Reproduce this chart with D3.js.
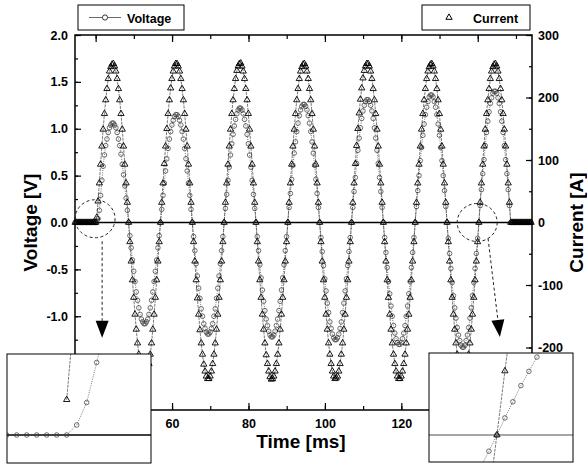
<!DOCTYPE html>
<html>
<head>
<meta charset="utf-8">
<script src="https://cdn.jsdelivr.net/npm/d3@7/dist/d3.min.js"></script>
<style>
  body { margin: 0; background: #fff; }
  text { font-family: "Liberation Sans", Arial, sans-serif; font-weight: bold; fill: #000; }
  .tick text { font-size: 12.5px; }
  .tick line { stroke: #000; stroke-width: 1.2; }
</style>
</head>
<body>
<svg id="chart" width="587" height="466"></svg>
<script>
// sampling of the recorded traces (ms)
var sampleStart = 34.633
var sampleStep = 1 / 3

// voltage trace [V], one half cycle per line
var voltage = [
  0,0,0,0,0,0,0,0,0,0,0,0,0,0,0,0,0,
  0,.04,.13,.29,.45,.60,.72,.82,.89,.96,1.01,1.04,1.06,1.06,1.04,1.01,.96,.89,.82,.73,.62,.51,.39,.26,.13,
  0,-.14,-.27,-.40,-.52,-.63,-.74,-.83,-.91,-.98,-1.03,-1.06,-1.08,-1.08,-1.06,-1.03,-.98,-.91,-.83,-.74,-.63,-.52,-.40,-.27,-.14,
  0,.14,.29,.42,.55,.68,.79,.89,.97,1.04,1.09,1.13,1.15,1.15,1.13,1.09,1.04,.97,.89,.79,.68,.55,.42,.29,.14,
  0,-.15,-.30,-.44,-.57,-.70,-.81,-.92,-1.00,-1.08,-1.13,-1.17,-1.19,-1.19,-1.17,-1.13,-1.08,-1.00,-.92,-.81,-.70,-.57,-.44,-.30,-.15,
  0,.15,.30,.45,.59,.72,.84,.94,1.03,1.10,1.16,1.20,1.22,1.22,1.20,1.16,1.10,1.03,.94,.84,.72,.59,.45,.30,.15,
  0,-.15,-.30,-.45,-.59,-.72,-.84,-.94,-1.03,-1.10,-1.16,-1.20,-1.22,-1.22,-1.20,-1.16,-1.10,-1.03,-.94,-.84,-.72,-.59,-.45,-.30,-.15,
  0,.16,.31,.46,.61,.74,.86,.97,1.06,1.14,1.20,1.24,1.26,1.26,1.24,1.20,1.14,1.06,.97,.86,.74,.61,.46,.31,.16,
  0,-.16,-.31,-.46,-.60,-.73,-.86,-.96,-1.06,-1.13,-1.19,-1.23,-1.25,-1.25,-1.23,-1.19,-1.13,-1.06,-.96,-.86,-.73,-.60,-.46,-.31,-.16,
  0,.16,.33,.48,.63,.77,.90,1.01,1.11,1.19,1.25,1.29,1.31,1.31,1.29,1.25,1.19,1.11,1.01,.90,.77,.63,.48,.33,.16,
  0,-.16,-.32,-.48,-.63,-.76,-.89,-1.00,-1.10,-1.18,-1.24,-1.28,-1.30,-1.30,-1.28,-1.24,-1.18,-1.10,-1.00,-.89,-.76,-.63,-.48,-.32,-.16,
  0,.17,.34,.50,.66,.80,.93,1.05,1.15,1.23,1.29,1.34,1.36,1.36,1.34,1.29,1.23,1.15,1.05,.93,.80,.66,.50,.34,.17,
  0,-.17,-.33,-.49,-.64,-.78,-.91,-1.02,-1.12,-1.20,-1.26,-1.31,-1.33,-1.33,-1.31,-1.26,-1.20,-1.12,-1.02,-.91,-.78,-.64,-.49,-.33,-.17,
  0,.18,.35,.52,.67,.82,.96,1.08,1.18,1.27,1.33,1.38,1.40,1.40,1.38,1.33,1.27,1.18,1.08,.96,.82,.67,.52,.35,.18,
  0,0,0,0,0,0,0,0,0,0,0,0,0,0,0,0,0
]

// current trace [A], same samples
var current = [
  0,0,0,0,0,0,0,0,0,0,0,0,0,0,0,0,0,
  8,34,63,93,122,149,174,196,214,230,242,249,253,254,250,242,230,214,196,174,149,122,93,63,32,
  0,-31,-62,-92,-120,-147,-171,-193,-211,-226,-238,-246,-250,-249,-246,-238,-226,-211,-193,-171,-147,-120,-92,-62,-31,
  0,32,63,94,122,150,174,196,215,230,242,250,254,254,250,242,230,214,196,174,149,122,93,63,32,
  0,-31,-62,-92,-121,-147,-172,-193,-211,-227,-238,-246,-250,-250,-246,-238,-226,-211,-193,-171,-147,-120,-92,-62,-31,
  0,32,63,93,122,149,174,196,214,230,243,250,254,255,250,242,230,214,196,174,149,122,93,63,32,
  0,-31,-62,-92,-120,-147,-171,-193,-212,-226,-238,-247,-251,-250,-246,-238,-226,-211,-193,-171,-147,-120,-92,-62,-31,
  0,32,63,93,122,149,174,196,214,230,242,249,253,254,250,242,230,214,196,174,149,122,93,63,32,
  0,-31,-62,-92,-120,-147,-171,-193,-211,-226,-238,-246,-250,-249,-246,-238,-226,-211,-193,-171,-147,-120,-92,-62,-31,
  0,32,63,94,123,150,175,197,215,231,243,250,254,254,250,242,230,214,196,174,149,122,93,63,32,
  0,-31,-62,-92,-120,-147,-171,-193,-211,-226,-238,-246,-250,-250,-246,-238,-226,-211,-193,-171,-147,-120,-92,-62,-31,
  0,32,63,93,122,149,174,196,214,230,242,249,253,254,250,242,230,214,196,174,149,122,93,63,32,
  0,-31,-62,-92,-120,-147,-171,-193,-211,-226,-239,-247,-251,-250,-246,-238,-226,-211,-193,-171,-147,-120,-92,-62,-31,
  0,32,63,93,122,149,174,196,214,230,242,249,253,254,250,242,230,214,196,174,149,122,93,63,32,
  0,0,0,0,0,0,0,0,0,0,0,0,0,0,0,0,0
]

var timeTicks = [40, 60, 80, 100, 120, 140]
var timeMinor = [40, 50, 60, 70, 80, 90, 100, 110, 120, 130, 140, 150]
var voltTicks = [-2, -1.5, -1, -0.5, 0, 0.5, 1, 1.5, 2]
var voltMinor = d3.range(-2, 2.01, 0.25)
var ampTicks = [-300, -200, -100, 0, 100, 200, 300]
var ampMinor = d3.range(-300, 301, 50)

var svg = d3.select("#chart")
var plot = {left: 75, right: 532, top: 35, bottom: 410}

var xScale = d3.scaleLinear().domain([34.6, 154.2]).range([plot.left, plot.right])
var yVolt = d3.scaleLinear().domain([-2, 2]).range([plot.bottom, plot.top])
var yAmp = d3.scaleLinear().domain([-300, 300]).range([plot.bottom, plot.top])

var samples = voltage.map(function (v, i) {
    return {t: sampleStart + i * sampleStep, v: v, c: current[i]}
})

var triangle = d3.symbol().type(d3.symbolTriangle).size(17)

// plain hyphen for negative labels, like the original
var hyphen = function (fmt) {
    return function (d) { return fmt(d).replace("\u2212", "-") }
}

// draws both traces into a group with its own scales
var drawTraces = function (g, xs, yv, yc, showCurrent) {
    var vLine = d3.line().x(function (d) { return xs(d.t) }).y(function (d) { return yv(d.v) })
    var cLine = d3.line().x(function (d) { return xs(d.t) }).y(function (d) { return yc(d.c) })

    g.append("path").datum(samples)
        .attr("d", vLine)
        .attr("fill", "none").attr("stroke", "#555")
        .attr("stroke-width", 0.8).attr("stroke-dasharray", "1,1.3")

    g.append("g").selectAll("circle")
        .data(samples).enter().append("circle")
        .attr("cx", function (d) { return xs(d.t) })
        .attr("cy", function (d) { return yv(d.v) })
        .attr("r", 2.3)
        .attr("fill", "none").attr("stroke", "#333").attr("stroke-width", 0.7)

    var cs = samples.filter(showCurrent)

    g.append("path").datum(cs)
        .attr("d", cLine)
        .attr("fill", "none").attr("stroke", "#222")
        .attr("stroke-width", 0.6).attr("stroke-dasharray", "3,1")

    g.append("g").selectAll("path")
        .data(cs).enter().append("path")
        .attr("d", triangle)
        .attr("transform", function (d) { return "translate(" + xs(d.t) + "," + yc(d.c) + ")" })
        .attr("fill", "none").attr("stroke", "#000").attr("stroke-width", 0.9)
}

// zero line
svg.append("line")
    .attr("x1", plot.left).attr("x2", plot.right)
    .attr("y1", yVolt(0)).attr("y2", yVolt(0))
    .attr("stroke", "#000").attr("stroke-width", 1.5)

drawTraces(svg.append("g"), xScale, yVolt, yAmp, function () { return true })

// axes
var axes = svg.append("g")
axes.append("g").attr("transform", "translate(0," + plot.bottom + ")")
    .call(d3.axisBottom(xScale).tickValues(timeTicks).tickSize(-7).tickPadding(9))
axes.append("g").attr("transform", "translate(0," + plot.bottom + ")")
    .call(d3.axisBottom(xScale).tickValues(timeMinor).tickSize(-4).tickFormat(""))
axes.append("g").attr("transform", "translate(0," + plot.top + ")")
    .call(d3.axisTop(xScale).tickValues(timeTicks).tickSize(-7).tickFormat(""))
axes.append("g").attr("transform", "translate(0," + plot.top + ")")
    .call(d3.axisTop(xScale).tickValues(timeMinor).tickSize(-4).tickFormat(""))
axes.append("g").attr("transform", "translate(" + plot.left + ",0)")
    .call(d3.axisLeft(yVolt).tickValues(voltTicks).tickSize(-6).tickPadding(7).tickFormat(hyphen(d3.format(".1f"))))
axes.append("g").attr("transform", "translate(" + plot.left + ",0)")
    .call(d3.axisLeft(yVolt).tickValues(voltMinor).tickSize(-3).tickFormat(""))
axes.append("g").attr("transform", "translate(" + plot.right + ",0)")
    .call(d3.axisRight(yAmp).tickValues(ampTicks).tickSize(-6).tickPadding(6).tickFormat(hyphen(d3.format("d"))))
axes.append("g").attr("transform", "translate(" + plot.right + ",0)")
    .call(d3.axisRight(yAmp).tickValues(ampMinor).tickSize(-3).tickFormat(""))
axes.selectAll(".domain").remove()
axes.selectAll("text").attr("fill", "#000").style("font-size", "12.5px")

svg.append("rect")
    .attr("x", plot.left).attr("y", plot.top)
    .attr("width", plot.right - plot.left).attr("height", plot.bottom - plot.top)
    .attr("fill", "none").attr("stroke", "#000").attr("stroke-width", 1.5)

// axis titles
svg.append("text").text("Time [ms]")
    .attr("x", 301).attr("y", 448).attr("text-anchor", "middle").style("font-size", "19px")
svg.append("text").text("Voltage [V]")
    .attr("transform", "translate(37," + yVolt(0) + ") rotate(-90)")
    .attr("text-anchor", "middle").style("font-size", "19px")
svg.append("text").text("Current [A]")
    .attr("transform", "translate(583," + yVolt(0) + ") rotate(-90)")
    .attr("text-anchor", "middle").style("font-size", "19px")

// legend boxes
var leg1 = svg.append("g")
leg1.append("rect").attr("x", 78).attr("y", 5).attr("width", 106).attr("height", 25)
    .attr("fill", "#fff").attr("stroke", "#000").attr("stroke-width", 1)
leg1.append("line").attr("x1", 89).attr("x2", 121).attr("y1", 17.5).attr("y2", 17.5)
    .attr("stroke", "#444").attr("stroke-width", 0.8)
leg1.append("circle").attr("cx", 105).attr("cy", 17.5).attr("r", 2.6)
    .attr("fill", "#fff").attr("stroke", "#222").attr("stroke-width", 0.9)
leg1.append("text").text("Voltage").attr("x", 127).attr("y", 22.5).style("font-size", "12.5px")

var leg2 = svg.append("g")
leg2.append("rect").attr("x", 422).attr("y", 5).attr("width", 108).attr("height", 25)
    .attr("fill", "#fff").attr("stroke", "#000").attr("stroke-width", 1)
leg2.append("path").attr("d", triangle).attr("transform", "translate(449,17.5)")
    .attr("fill", "none").attr("stroke", "#000").attr("stroke-width", 1)
leg2.append("text").text("Current").attr("x", 473).attr("y", 22.5).style("font-size", "12.5px")

// dashed circles and arrows pointing to the insets
var drawCallout = function (ct, cv, from, to) {
    svg.append("ellipse")
        .attr("cx", xScale(ct)).attr("cy", yVolt(cv)).attr("rx", 20).attr("ry", 19)
        .attr("fill", "none").attr("stroke", "#222").attr("stroke-width", 1).attr("stroke-dasharray", "3,2.5")
    var x1 = xScale(from[0]), y1 = yVolt(from[1]), x2 = xScale(to[0]), y2 = yVolt(to[1])
    var ang = Math.atan2(y2 - y1, x2 - x1)
    var len = 17, half = 6.5
    var bx = x2 - len * Math.cos(ang), by = y2 - len * Math.sin(ang)
    svg.append("line").attr("x1", x1).attr("y1", y1).attr("x2", bx).attr("y2", by)
        .attr("stroke", "#222").attr("stroke-width", 1).attr("stroke-dasharray", "3,2.5")
    svg.append("polygon")
        .attr("points", [
            [x2, y2],
            [bx + half * Math.sin(ang), by - half * Math.cos(ang)],
            [bx - half * Math.sin(ang), by + half * Math.cos(ang)]
        ].map(function (p) { return p.join(",") }).join(" "))
        .attr("fill", "#000")
}
drawCallout(39.85, 0.04, [41.7, -0.2], [41.7, -1.23])
drawCallout(139.85, 0, [142.7, -0.17], [145.8, -1.22])

// inset boxes: magnified views of the start and a zero crossing
var drawInset = function (box, xs, yv, yc, zeroColor, showCurrent, id) {
    var g = svg.append("g")
    g.append("rect").attr("x", box.x).attr("y", box.y).attr("width", box.w).attr("height", box.h)
        .attr("fill", "#fff")
    svg.append("clipPath").attr("id", id).append("rect")
        .attr("x", box.x).attr("y", box.y).attr("width", box.w).attr("height", box.h)
    var inner = g.append("g").attr("clip-path", "url(#" + id + ")")
    inner.append("line").attr("x1", box.x).attr("x2", box.x + box.w)
        .attr("y1", yv(0)).attr("y2", yv(0))
        .attr("stroke", zeroColor).attr("stroke-width", 1.5)
    drawTraces(inner, xs, yv, yc, showCurrent)
    g.append("rect").attr("x", box.x).attr("y", box.y).attr("width", box.w).attr("height", box.h)
        .attr("fill", "none").attr("stroke", "#000").attr("stroke-width", 1)
}

var boxL = {x: 7, y: 354, w: 144, h: 109}
drawInset(boxL,
    d3.scaleLinear().domain([38.31, 43.11]).range([boxL.x, boxL.x + boxL.w]),
    d3.scaleLinear().domain([-0.112, 0.324]).range([boxL.y + boxL.h, boxL.y]),
    d3.scaleLinear().domain([-6.4, 18.4]).range([boxL.y + boxL.h, boxL.y]),
    "#000", function (d) { return d.c > 0 }, "clipL")

var boxR = {x: 429, y: 353, w: 144, h: 109}
drawInset(boxR,
    d3.scaleLinear().domain([137.47, 143.47]).range([boxR.x, boxR.x + boxR.w]),
    d3.scaleLinear().domain([-0.284, 0.863]).range([boxR.y + boxR.h, boxR.y]),
    d3.scaleLinear().domain([-13.5, 41]).range([boxR.y + boxR.h, boxR.y]),
    "#888", function () { return true }, "clipR")
</script>
</body>
</html>
